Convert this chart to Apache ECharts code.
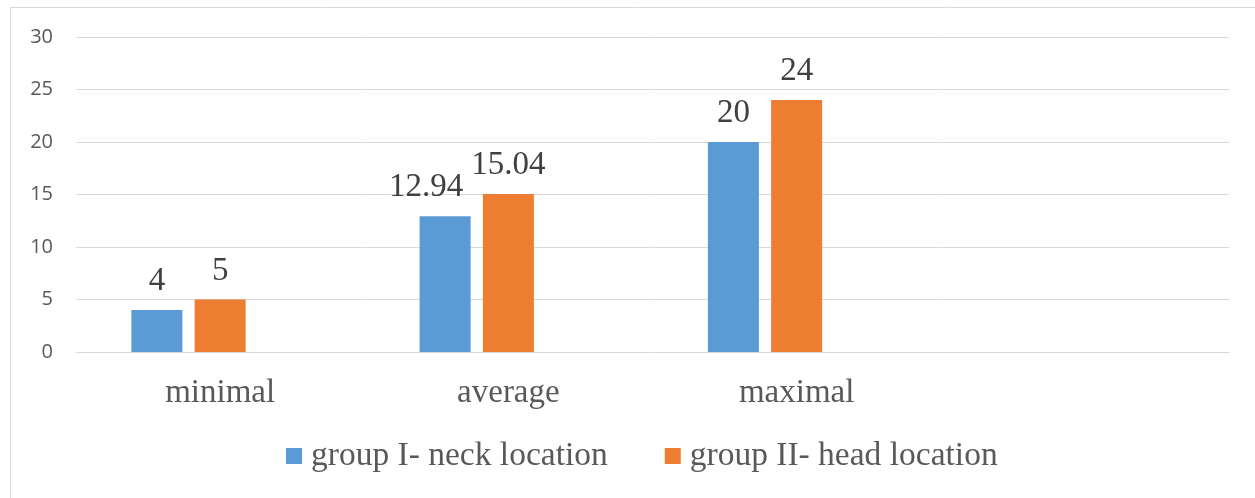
<!DOCTYPE html>
<html>
<head>
<meta charset="utf-8">
<script src="https://cdn.jsdelivr.net/npm/echarts@6/dist/echarts.min.js"></script>
<style>
  html, body { margin: 0; padding: 0; background: #fff; }
  #chart { width: 1255px; height: 498px; }
</style>
</head>
<body>
<div id="chart"></div>
<script>
// Categories (the last slot is left empty, as in the source workbook)
const categories = ['minimal', 'average', 'maximal', ''];
const seriesNames = ['group I- neck location', 'group II- head location'];
const neckValues = [4, 12.94, 20, null];
const headValues = [5, 15.04, 24, null];
// third workbook series has no values; it only reserves its slot in each group
const spareValues = [null, null, null, null];
const yTicks = [0, 5, 10, 15, 20, 25, 30];

const serif = '"Liberation Serif", "Times New Roman", serif';
const sans = '"Open Sans", "Liberation Sans", sans-serif';

const chart = echarts.init(document.getElementById('chart'), null, { renderer: 'canvas' });

const labelStyle = {
  show: true, position: 'top', distance: 12,
  fontFamily: serif, fontSize: 33, color: '#404040'
};

// the "average" neck label is nudged left so it clears its neighbour
const neckData = neckValues.map((v, i) =>
  i === 1 ? { value: v, label: { offset: [-19, 0] } } : v);

chart.setOption({
  animation: false,
  backgroundColor: '#ffffff',
  graphic: [{
    type: 'rect',
    shape: { x: 10.5, y: 7.5, width: 1400, height: 700 },
    style: { fill: 'none', stroke: '#d9d9d9', lineWidth: 1 },
    silent: true
  }],
  grid: { left: 76, right: 26, top: 37, bottom: 146, containLabel: false },
  legend: {
    data: seriesNames,
    bottom: 20,
    left: 281,
    itemWidth: 16,
    itemHeight: 16,
    itemGap: 57,
    icon: 'rect',
    textStyle: { fontFamily: serif, fontSize: 33.5, color: '#595959', padding: [0, 0, 0, 4] }
  },
  xAxis: {
    type: 'category',
    data: categories,
    axisLine: { show: true, lineStyle: { color: '#d9d9d9', width: 1 } },
    axisTick: { show: false },
    axisLabel: { fontFamily: serif, fontSize: 33, color: '#595959', margin: 25 },
    splitLine: { show: false }
  },
  yAxis: {
    type: 'value',
    min: yTicks[0],
    max: yTicks[yTicks.length - 1],
    interval: 5,
    axisLine: { show: false },
    axisTick: { show: false },
    axisLabel: { fontFamily: sans, fontSize: 20, color: '#595959', margin: 23 },
    splitLine: { show: true, lineStyle: { color: '#d9d9d9', width: 1 } }
  },
  series: [
    {
      name: seriesNames[0],
      type: 'bar',
      data: neckData,
      barWidth: 51,
      barGap: '24%',
      itemStyle: { color: '#5b9bd5' },
      label: labelStyle
    },
    {
      name: seriesNames[1],
      type: 'bar',
      data: headValues,
      barWidth: 51,
      barGap: '24%',
      itemStyle: { color: '#ed7d31' },
      label: labelStyle
    },
    {
      name: 'spare',
      type: 'bar',
      data: spareValues,
      barWidth: 51,
      barGap: '24%',
      itemStyle: { color: '#a5a5a5' },
      label: { show: false }
    }
  ]
});
</script>
</body>
</html>
